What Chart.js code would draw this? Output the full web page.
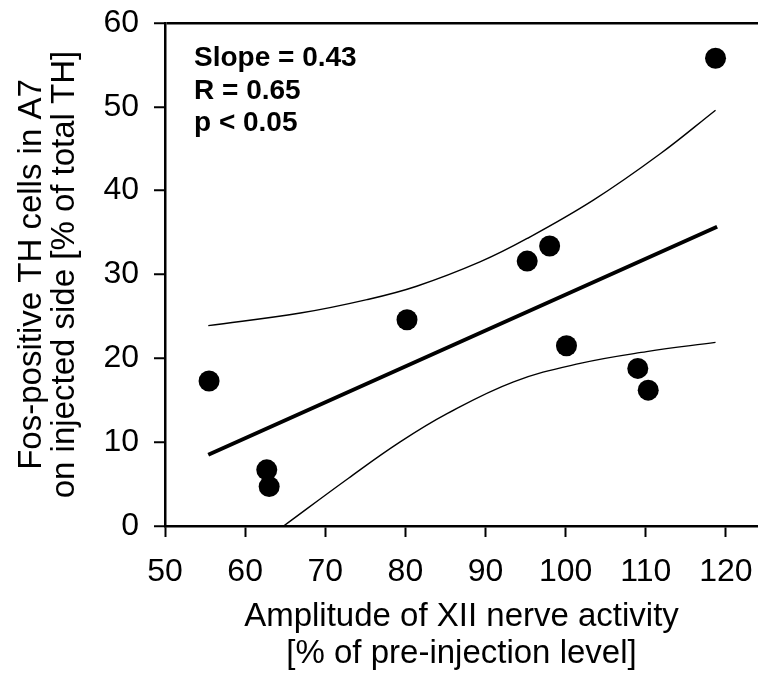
<!DOCTYPE html>
<html>
<head>
<meta charset="utf-8">
<script src="https://cdn.jsdelivr.net/npm/chart.js@4.4.1/dist/chart.umd.min.js"></script>
<style>
  html, body { margin: 0; padding: 0; background: #fff; }
  #wrap { width: 758px; height: 673px; position: relative; }
</style>
</head>
<body>
<div id="wrap"><canvas id="chart"></canvas></div>
<script>
const FONT = '"Liberation Sans", Arial, Helvetica, sans-serif';

// --- data -----------------------------------------------------------------
const POINTS_X = [55.5, 62.7, 63.0, 80.2, 95.2, 98.0, 100.1, 109.0, 110.3, 118.7];
const POINTS_Y = [17.3, 6.7, 4.7, 24.6, 31.6, 33.4, 21.5, 18.8, 16.2, 55.8];

const FIT_X = [55.4, 118.9];
const FIT_Y = [8.5, 35.7];

const UPPER_X = [55.4, 66.9, 75.2, 81.4, 89.3, 95.2, 103.5, 111.8, 118.7];
const UPPER_Y = [23.9, 25.4, 27.0, 28.6, 31.5, 34.3, 38.9, 44.4, 49.6];

const LOWER_X = [64.8, 72.9, 79.3, 85.2, 93.5, 101.8, 110.1, 118.7];
const LOWER_Y = [0.0, 5.7, 10.0, 13.4, 17.2, 19.4, 20.8, 21.9];

const X_TICKS = [50, 60, 70, 80, 90, 100, 110, 120];
const Y_TICKS = [0, 10, 20, 30, 40, 50, 60];

const STATS = ["Slope = 0.43", "R = 0.65", "p < 0.05"];

const pairs = (xs, ys) => xs.map((x, i) => ({ x, y: ys[i] }));

// --- stats text in the top-left corner ---------------------------------------
const statsText = {
  id: "statsText",
  afterDatasetsDraw(chart) {
    const { ctx, chartArea } = chart;
    ctx.save();
    ctx.fillStyle = "#000";
    ctx.font = `bold 28px ${FONT}`;
    ctx.textBaseline = "alphabetic";
    STATS.forEach((s, i) => ctx.fillText(s, chartArea.left + 29, chartArea.top + 43 + i * 32.5));
    ctx.restore();
  },
};

const lineSet = (data, width) => ({
  type: "line",
  data,
  borderColor: "#000",
  borderWidth: width,
  pointRadius: 0,
  fill: false,
  tension: 0.4,
});

new Chart(document.getElementById("chart"), {
  type: "scatter",
  data: {
    datasets: [
      lineSet(pairs(UPPER_X, UPPER_Y), 1.4),
      lineSet(pairs(LOWER_X, LOWER_Y), 1.4),
      lineSet(pairs(FIT_X, FIT_Y), 4),
      {
        data: pairs(POINTS_X, POINTS_Y),
        backgroundColor: "#000",
        borderColor: "#000",
        pointRadius: 10.5,
        pointBorderWidth: 0,
      },
    ],
  },
  options: {
    responsive: true,
    maintainAspectRatio: false,
    animation: false,
    events: [],
    layout: { autoPadding: false, padding: { top: 23, right: 0, bottom: 0, left: 0 } },
    plugins: { legend: { display: false }, tooltip: { enabled: false } },
    scales: {
      x: {
        type: "linear",
        min: 50,
        max: 124,
        afterBuildTicks: (axis) => { axis.ticks = X_TICKS.map((value) => ({ value })); },
        afterFit: (axis) => { axis.height = 147; axis.paddingLeft = 0; axis.paddingRight = 0; },
        border: { display: true, color: "#000", width: 2.5 },
        grid: { color: "transparent", tickColor: "#000", tickLength: 11, tickWidth: 2 },
        ticks: { color: "#000", padding: 16, maxRotation: 0, font: { family: FONT, size: 32 } },
        title: {
          display: true,
          text: ["Amplitude of XII nerve activity", "[% of pre-injection level]"],
          color: "#000",
          font: { family: FONT, size: 33, lineHeight: "37px" },
          padding: { top: 0, bottom: 1 },
        },
      },
      y: {
        type: "linear",
        min: 0,
        max: 60,
        afterBuildTicks: (axis) => { axis.ticks = Y_TICKS.map((value) => ({ value })); },
        afterFit: (axis) => { axis.width = 165; axis.paddingTop = 0; axis.paddingBottom = 0; },
        border: { display: true, color: "#000", width: 2.5 },
        grid: {
          color: (c) => (c.tick && c.tick.value === 60 ? "#000" : "transparent"),
          lineWidth: 2.5,
          tickColor: "#000",
          tickLength: 11,
          tickWidth: 2,
        },
        ticks: { color: "#000", padding: 15, font: { family: FONT, size: 32 } },
        title: {
          display: true,
          text: ["Fos-positive TH cells in A7", "on injected side [% of total TH]"],
          color: "#000",
          font: { family: FONT, size: 33, lineHeight: "33px" },
          padding: { top: 15, bottom: 0 },
        },
      },
    },
  },
  plugins: [statsText],
});
</script>
</body>
</html>
